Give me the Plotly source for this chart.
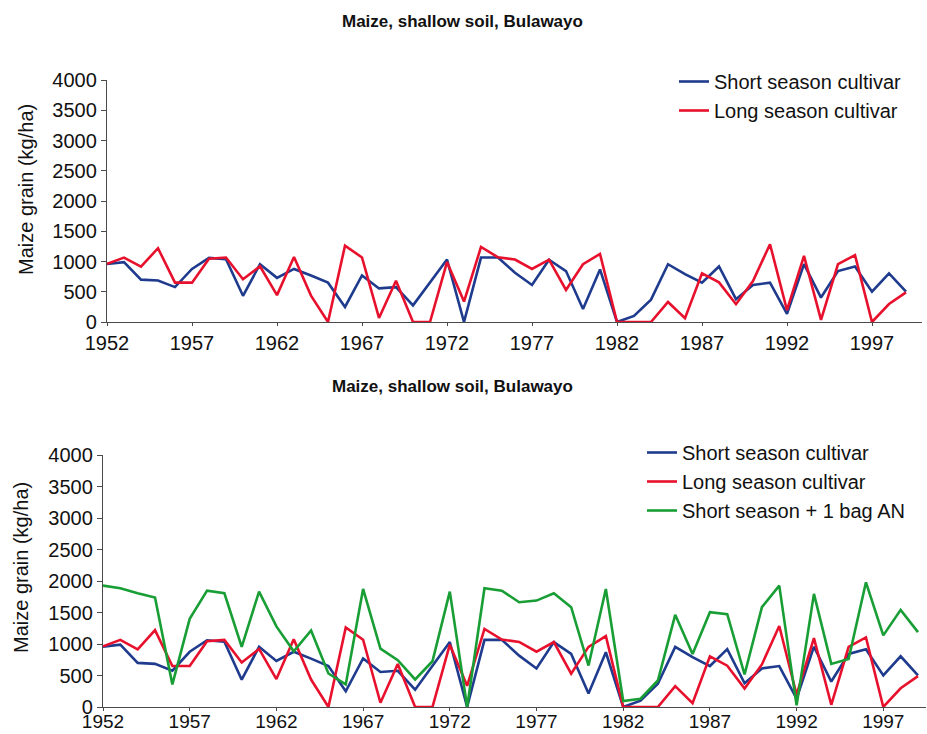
import plotly.graph_objects as go

# Simulated maize grain yields (kg/ha), shallow soil, Bulawayo, 1952-1999
years = list(range(1952, 2000))

short_season = [958, 990, 700, 685, 577, 877, 1059, 1037, 433, 955,
                730, 877, 768, 650, 249, 770, 555, 575, 275, 650,
                1032, 0, 1065, 1065, 815, 612, 1030, 842, 214, 869,
                0, 100, 370, 955, 790, 650, 918, 377, 612, 650,
                133, 957, 404, 842, 918, 502, 805, 502]

long_season = [962, 1065, 915, 1220, 650, 650, 1045, 1065, 706, 922,
               444, 1075, 436, 0, 1262, 1067, 67, 682, 0, 0,
               990, 337, 1240, 1070, 1033, 877, 1030, 530, 955, 1125,
               0, 0, 0, 331, 62, 805, 655, 294, 676, 1286,
               195, 1093, 35, 955, 1105, 0, 297, 489]

short_plus_an = [1926, 1884, 1805, 1737, 358, 1400, 1847, 1805, 953, 1832,
                 1279, 884, 1216, 532, 358, 1874, 926, 742, 437, 726,
                 1832, 0, 1884, 1847, 1663, 1689, 1805, 1584, 658, 1874,
                 95, 132, 421, 1463, 842, 1505, 1474, 516, 1584, 1926,
                 26, 1795, 684, 763, 1979, 1137, 1542, 1189]

year_ticks = list(range(1952, 2000, 5))
grain_ticks = list(range(0, 4001, 500))

title_text = "Maize, shallow soil, Bulawayo"
y_title = "Maize grain (kg/ha)"

BLUE = "#1f3b8e"
RED = "#e8112d"
GREEN = "#189e35"
FONT = "Liberation Sans, Arial, sans-serif"
W, H = 927, 734

fig = go.Figure()

# top panel: two cultivars
fig.add_trace(go.Scatter(x=years, y=short_season, mode="lines", name="Short season cultivar",
                         line=dict(color=BLUE, width=2.6), xaxis="x", yaxis="y", legend="legend"))
fig.add_trace(go.Scatter(x=years, y=long_season, mode="lines", name="Long season cultivar",
                         line=dict(color=RED, width=2.6), xaxis="x", yaxis="y", legend="legend"))

# bottom panel: cultivars plus fertilised short season
fig.add_trace(go.Scatter(x=years, y=short_season, mode="lines", name="Short season cultivar",
                         line=dict(color=BLUE, width=2.6), xaxis="x2", yaxis="y2", legend="legend2"))
fig.add_trace(go.Scatter(x=years, y=long_season, mode="lines", name="Long season cultivar",
                         line=dict(color=RED, width=2.6), xaxis="x2", yaxis="y2", legend="legend2"))
fig.add_trace(go.Scatter(x=years, y=short_plus_an, mode="lines", name="Short season + 1 bag AN",
                         line=dict(color=GREEN, width=2.6), xaxis="x2", yaxis="y2", legend="legend2"))


def px_x(p):
    return p / W


def px_y(p):
    return 1 - p / H


axis_common = dict(showgrid=False, zeroline=False, showline=True, linecolor="#4a4a4a", linewidth=1.3,
                   ticks="outside", tickcolor="#4a4a4a", automargin=False,
                   tickfont=dict(family=FONT, size=20, color="#111"))

# top panel: x from 1952 at 107px, 17 px per year
fig.update_layout(
    xaxis=dict(axis_common, domain=[px_x(107), px_x(922)], range=[1952, 1952 + (922 - 107) / 17.0],
               tickvals=year_ticks, ticklen=3, anchor="y"),
    yaxis=dict(axis_common, domain=[px_y(322), px_y(80)], range=[0, 4000],
               tickvals=grain_ticks, ticklen=5, anchor="x"),
    xaxis2=dict(axis_common, domain=[px_x(103), px_x(926)], range=[1952, 1952 + (926 - 103) / 17.34],
                tickvals=year_ticks, ticklen=3, ticklabelstandoff=-6, anchor="y2",
                tickfont=dict(family=FONT, size=19, color="#111")),
    yaxis2=dict(axis_common, domain=[px_y(707), px_y(455)], range=[0, 4000],
                tickvals=grain_ticks, ticklen=5, anchor="x2"),
)

legend_font = dict(family=FONT, size=20, color="#111")
fig.update_layout(
    width=W, height=H,
    margin=dict(l=0, r=0, t=0, b=0, autoexpand=False),
    paper_bgcolor="white", plot_bgcolor="white",
    legend=dict(x=px_x(674), y=px_y(62), xanchor="left", yanchor="top", font=legend_font,
                bgcolor="rgba(0,0,0,0)", tracegroupgap=0),
    legend2=dict(x=px_x(642), y=px_y(433), xanchor="left", yanchor="top", font=legend_font,
                 bgcolor="rgba(0,0,0,0)", tracegroupgap=0),
    annotations=[
        dict(text="<b>" + title_text + "</b>", x=px_x(462), y=px_y(21), xref="paper", yref="paper",
             xanchor="center", yanchor="middle",
             showarrow=False, font=dict(family=FONT, size=17, color="#111")),
        dict(text="<b>" + title_text + "</b>", x=px_x(452), y=px_y(386), xref="paper", yref="paper",
             xanchor="center", yanchor="middle",
             showarrow=False, font=dict(family=FONT, size=17, color="#111")),
        dict(text=y_title, x=px_x(26), y=px_y(190), xref="paper", yref="paper", textangle=-90,
             xanchor="center", yanchor="middle",
             showarrow=False, font=dict(family=FONT, size=20, color="#111")),
        dict(text=y_title, x=px_x(21), y=px_y(568), xref="paper", yref="paper", textangle=-90,
             xanchor="center", yanchor="middle",
             showarrow=False, font=dict(family=FONT, size=20, color="#111")),
    ],
)

fig.write_html("out.html")
